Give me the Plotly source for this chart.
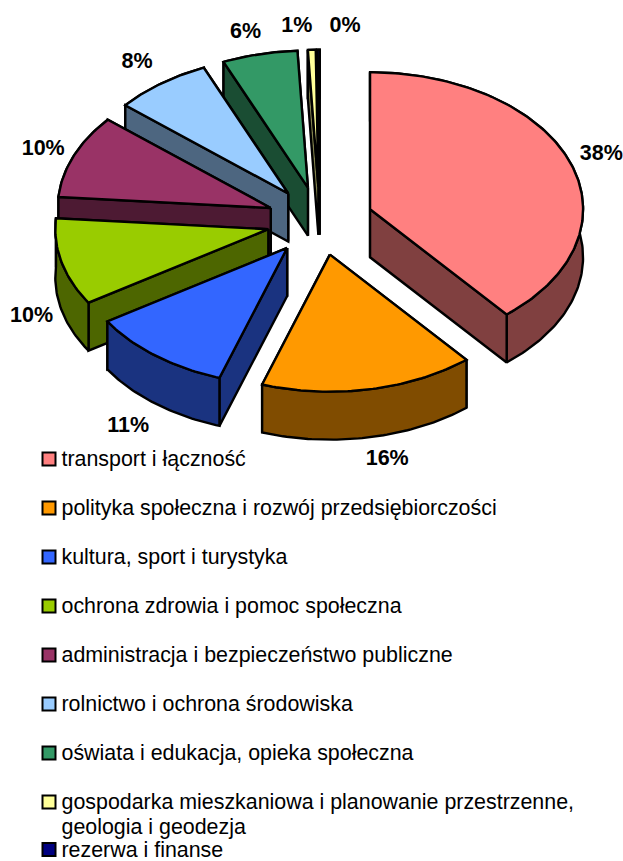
import numpy as np
import plotly.graph_objects as go

categories = [
    "transport i łączność",
    "polityka społeczna i rozwój przedsiębiorczości",
    "kultura, sport i turystyka",
    "ochrona zdrowia i pomoc społeczna",
    "administracja i bezpieczeństwo publiczne",
    "rolnictwo i ochrona środowiska",
    "oświata i edukacja, opieka społeczna",
    "gospodarka mieszkaniowa i planowanie przestrzenne,<br>geologia i geodezja",
    "rezerwa i finanse",
]
values = [38.4, 16.2, 10.9, 10.4, 10.0, 7.5, 5.8, 0.6, 0.2]
pct_labels = ["38%", "16%", "11%", "10%", "10%", "8%", "6%", "1%", "0%"]
top_colors = ["#FF8080", "#FF9900", "#3366FF", "#99CC00", "#993366",
              "#99CCFF", "#339966", "#FFFF99", "#000080"]
side_colors = ["#804040", "#804C00", "#1A3380", "#4D6600", "#4D1A33",
               "#4D6680", "#1A4D33", "#80804D", "#000040"]

# projection of the tilted, exploded pie (page pixels)
CX, CY, RX, RY = 320.0, 221.0, 213.0, 137.0
DEPTH, EXPLODE = 48.0, 0.25
WARP = np.radians(2.0)  # slight angular distortion of the 3-D perspective
LW = 2.4
LABEL_K = 1.4
label_nudge = [(1, -1), (12, 2), (-8, 7), (1, 50), (-1, 2), (-5, -4), (-7, -2), (-14, -3), (27, -3)]
legend_x, legend_first_y, legend_step, legend_line = 49.0, 459.0, 49.0, 25.0
legend_text_dx, legend_text_dy = 12.5, 2.0

fracs = np.array(values) / sum(values)
edges = np.concatenate([[0], np.cumsum(fracs)]) * 2 * np.pi
edges = edges + WARP * np.sin(edges / 2)

fig = go.Figure()


def poly(xs, ys, color):
    fig.add_trace(go.Scatter(x=xs, y=ys, mode="lines", fill="toself", fillcolor=color,
                             line=dict(color="black", width=LW), hoverinfo="skip",
                             showlegend=False))


slices = []
for i in range(len(values)):
    t0, t1 = edges[i], edges[i + 1]
    mid = (t0 + t1) / 2
    ax = CX + EXPLODE * RX * np.sin(mid)
    ay = CY - EXPLODE * RY * np.cos(mid)
    ts = np.linspace(t0, t1, max(4, int((t1 - t0) * 60)))
    rx = ax + RX * np.sin(ts)
    ry = ay - RY * np.cos(ts)
    slices.append((i, mid, ax, ay, rx, ry))

for i, mid, ax, ay, rx, ry in sorted(slices, key=lambda s: -np.cos(s[1])):
    faces = [
        ([ax, rx[0], rx[0], ax, ax], [ay, ry[0], ry[0] + DEPTH, ay + DEPTH, ay]),
        ([ax, rx[-1], rx[-1], ax, ax], [ay, ry[-1], ry[-1] + DEPTH, ay + DEPTH, ay]),
        (list(rx) + list(rx[::-1]) + [rx[0]], list(ry) + list(ry[::-1] + DEPTH) + [ry[0]]),
    ]
    faces.sort(key=lambda f: np.mean(f[1]))
    for fx, fy in faces:
        poly(fx, fy, side_colors[i])
    poly([ax] + list(rx) + [ax], [ay] + list(ry) + [ay], top_colors[i])

# percentage labels
lx, ly = [], []
for (i, mid, *_), (nx, ny) in zip(slices, label_nudge):
    lx.append(CX + LABEL_K * RX * np.sin(mid) + nx)
    ly.append(CY - LABEL_K * RY * np.cos(mid) + ny + (DEPTH if np.cos(mid) < -0.5 else 0))
fig.add_trace(go.Scatter(x=lx, y=ly, mode="text", text=pct_labels, textposition="middle center",
                         textfont=dict(family="Liberation Sans", size=21.5, color="black", weight="bold"),
                         hoverinfo="skip", showlegend=False, cliponaxis=False))

# legend rows
ky = [legend_first_y + legend_step * k for k in range(len(categories))]
ky[-1] = ky[-2] + 2 * legend_line - 2.5
txt_x, txt_y, txt_s = [], [], []
for k, (name, col) in enumerate(zip(categories, top_colors)):
    fig.add_trace(go.Scatter(x=[legend_x], y=[ky[k]], mode="markers",
                             marker=dict(symbol="square", size=13, color=col,
                                         line=dict(color="black", width=2)),
                             hoverinfo="skip", showlegend=False, cliponaxis=False))
    for j, part in enumerate(name.split("<br>")):
        txt_x.append(legend_x + legend_text_dx)
        txt_y.append(ky[k] + j * legend_line + legend_text_dy)
        txt_s.append(part)
fig.add_trace(go.Scatter(x=txt_x, y=txt_y, text=txt_s, mode="text", textposition="middle right",
                         textfont=dict(family="Liberation Sans", size=21.4, color="black"),
                         hoverinfo="skip", showlegend=False, cliponaxis=False))

fig.update_layout(width=623, height=861, margin=dict(l=0, r=0, t=0, b=0),
                  paper_bgcolor="white", plot_bgcolor="white", showlegend=False,
                  xaxis=dict(range=[0, 623], visible=False, fixedrange=True),
                  yaxis=dict(range=[861, 0], visible=False, fixedrange=True))
fig.write_html("out.html", config={"displayModeBar": False},
               post_script="document.body.style.margin='0';")
